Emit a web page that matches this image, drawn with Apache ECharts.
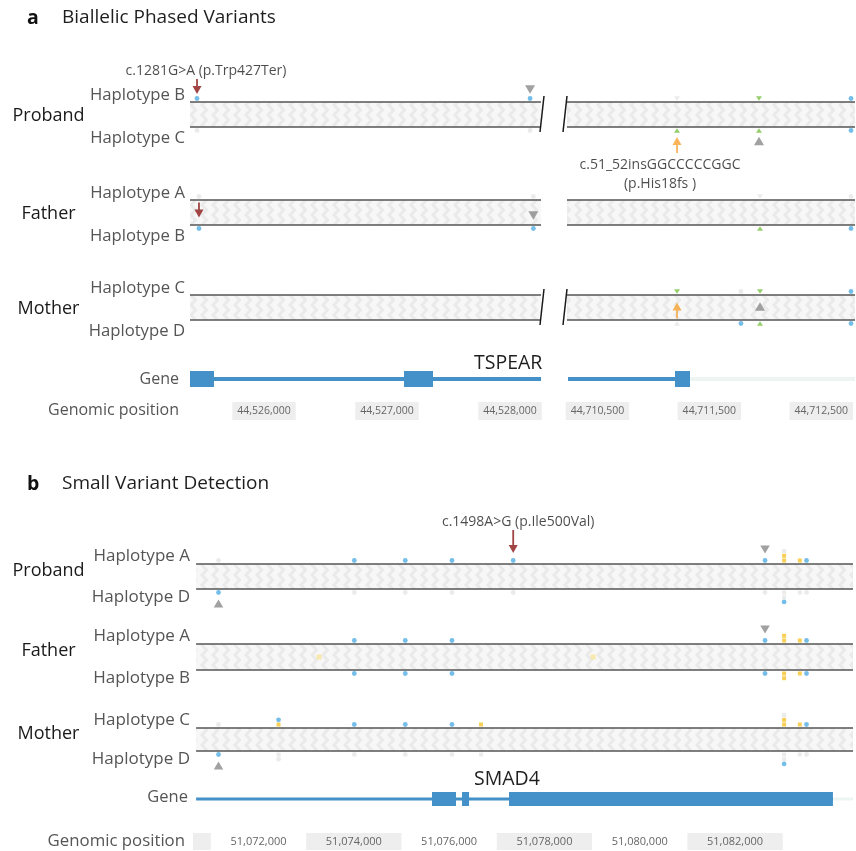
<!DOCTYPE html>
<html>
<head>
<meta charset="utf-8">
<script src="https://cdn.jsdelivr.net/npm/echarts@6/dist/echarts.min.js"></script>
<style>
  html, body { margin: 0; padding: 0; background: #fff; }
  #chart { width: 856px; height: 851px; }
</style>
</head>
<body>
<div id="chart"></div>
<script>
// ---- data ------------------------------------------------------------------
var SAMPLES = ['Proband', 'Father', 'Mother'];
var HAPS_A = { Proband: ['Haplotype B', 'Haplotype C'], Father: ['Haplotype A', 'Haplotype B'], Mother: ['Haplotype C', 'Haplotype D'] };
var HAPS_B = { Proband: ['Haplotype A', 'Haplotype D'], Father: ['Haplotype A', 'Haplotype B'], Mother: ['Haplotype C', 'Haplotype D'] };

// genomic windows (bp)
var REGION_A_LEFT = [44525398, 44528252];
var REGION_A_RIGHT = [44710228, 44712754];
var REGION_B = [51070625, 51084476];
var TRACK_START_B = 51070690;

var TICKS_A_LEFT = [44526000, 44527000, 44528000];
var TICKS_A_RIGHT = [44710500, 44711500, 44712500];
var TICKS_B = [51072000, 51074000, 51076000, 51078000, 51080000, 51082000];
var BANDS_B = [[51069000, 51071000], [51073000, 51075000], [51077000, 51079000], [51081000, 51083000]];

// gene models: [start, end, part]  part: 0 intron line, 1 exon, 2 flank
var GENE_A_LEFT = [[44525398, 44528252, 0], [44525398, 44525593, 1], [44527138, 44527374, 1]];
var GENE_A_RIGHT = [[44710237, 44711175, 0], [44711175, 44711307, 1], [44711307, 44712754, 2]];
var GENE_B = [[51070690, 51084055, 0], [51075641, 51076145, 1], [51076271, 51076418, 1], [51077257, 51084055, 1], [51084055, 51084476, 2]];

// variants: [position, sample, type, phased genotype]
var VARIANTS_A_LEFT = [
  [44525455, 'Proband', 'snv', '1|0'],
  [44528163, 'Proband', 'snv', '1|0'],
  [44525471, 'Father', 'snv', '0|1'],
  [44528190, 'Father', 'snv', '0|1']
];
var VARIANTS_A_RIGHT = [
  [44711193, 'Proband', 'ins', '0|1'],
  [44711912, 'Proband', 'ins', '1|1'],
  [44712719, 'Proband', 'snv', '1|1'],
  [44711921, 'Father', 'ins', '0|1'],
  [44712719, 'Father', 'snv', '0|1'],
  [44711193, 'Mother', 'ins', '1|0'],
  [44711754, 'Mother', 'snv', '0|1'],
  [44711921, 'Mother', 'ins', '1|1'],
  [44712719, 'Mother', 'snv', '1|1']
];
var VARIANTS_B = [
  [51071160, 'Proband', 'snv', '0|1'],
  [51074010, 'Proband', 'snv', '1|0'],
  [51075080, 'Proband', 'snv', '1|0'],
  [51076060, 'Proband', 'snv', '1|0'],
  [51077345, 'Proband', 'snv', '1|0'],
  [51082630, 'Proband', 'snv', '1|0'],
  [51083030, 'Proband', 'del', '1|0'],
  [51083030, 'Proband', 'del', '1|0'],
  [51083030, 'Proband', 'snv', '0|1'],
  [51083360, 'Proband', 'del', '1|0'],
  [51083500, 'Proband', 'snv', '1|0'],
  [51073270, 'Father', 'del', 'un'],
  [51074010, 'Father', 'snv', '1|1'],
  [51075080, 'Father', 'snv', '1|1'],
  [51076060, 'Father', 'snv', '1|1'],
  [51079024, 'Father', 'del', 'un'],
  [51082630, 'Father', 'snv', '1|1'],
  [51083030, 'Father', 'del', '1|1'],
  [51083030, 'Father', 'del', '1|1'],
  [51083360, 'Father', 'del', '1|1'],
  [51083500, 'Father', 'snv', '1|1'],
  [51071160, 'Mother', 'snv', '0|1'],
  [51072420, 'Mother', 'del', '1|0'],
  [51072420, 'Mother', 'snv', '1|0'],
  [51074010, 'Mother', 'snv', '1|0'],
  [51075080, 'Mother', 'snv', '1|0'],
  [51076060, 'Mother', 'snv', '1|0'],
  [51076670, 'Mother', 'del', '1|0'],
  [51083030, 'Mother', 'del', '1|0'],
  [51083030, 'Mother', 'del', '1|0'],
  [51083030, 'Mother', 'snv', '0|1'],
  [51083360, 'Mother', 'del', '1|0'],
  [51083500, 'Mother', 'snv', '1|0']
];

// grey flags: [position, sample, haplotype, placement]
var FLAGS_A_LEFT = [[44528163, 'Proband', 0, 'out'], [44528190, 'Father', 1, 'in']];
var FLAGS_A_RIGHT = [[44711912, 'Proband', 1, 'out'], [44711921, 'Mother', 0, 'in']];
var FLAGS_B = [[51071160, 'Proband', 1, 'out'], [51082630, 'Proband', 0, 'out'], [51082630, 'Father', 0, 'out'], [51071160, 'Mother', 1, 'out']];

// callout arrows: [position, sample, haplotype, placement, parent of origin, text]
var ARROWS_A_LEFT = [
  [44525455, 'Proband', 0, 'out', 'paternal', 'c.1281G>A (p.Trp427Ter)'],
  [44525471, 'Father', 1, 'in', 'paternal', '']
];
var ARROWS_A_RIGHT = [
  [44711193, 'Proband', 1, 'out', 'maternal', 'c.51_52insGGCCCCCGGC\n(p.His18fs )'],
  [44711193, 'Mother', 0, 'in', 'maternal', '']
];
var ARROWS_B = [[51077345, 'Proband', 0, 'out', 'paternal', 'c.1498A>G (p.Ile500Val)']];

// ---- layout / style --------------------------------------------------------
var FONT = '"Open Sans", "Noto Sans", sans-serif';
var ROWS_A = { Proband: [102, 127], Father: [200, 225], Mother: [295, 320] };
var ROWS_B = { Proband: [564, 589], Father: [644, 670], Mother: [728, 751] };
var BREAK_LEFT = { Proband: 1, Mother: 1 };   // slash at right end of left window
var BREAK_RIGHT = { Proband: 2, Mother: 2 };  // slash at left end of right window
var CALLOUT_DX = { 'c.1281G>A (p.Trp427Ter)': 9, 'c.51_52insGGCCCCCGGC\n(p.His18fs )': -17, 'c.1498A>G (p.Ile500Val)': 5 };

var LINE = '#555555';
var GENE_COLOR = '#4391c8';
var FLANK_COLOR = '#edf5f3';
var REF_COLOR = '#e6e6e6';
var ORIGIN_COLOR = { paternal: '#8a1717', maternal: '#f7a233' };
var KIND = {
  snv: { symbol: 'circle', size: 4.8, color: '#52aee3', pale: '#bfe0f4' },
  del: { symbol: 'rect', size: 4, color: '#f8c42c', pale: '#f9e39b' },
  ins: { symbol: 'triangle', size: [6, 4.5], color: '#7cc247', pale: '#c9e6b2' }
};
var STACK_STEP = 4.7;

// chevron fill for the haplotype band
var pat = document.createElement('canvas');
pat.width = 11; pat.height = 10;
var pg = pat.getContext('2d');
pg.fillStyle = '#f7f7f7'; pg.fillRect(0, 0, 11, 10);
pg.fillStyle = '#eaeaea';
pg.beginPath();
pg.moveTo(6.5, 0); pg.lineTo(2, 5); pg.lineTo(6.5, 10); pg.lineTo(10.5, 10); pg.lineTo(6, 5); pg.lineTo(10.5, 0);
pg.closePath(); pg.fill();
var BAND_FILL = { image: pat, repeat: 'repeat' };

function fmt(v) { return Math.round(v).toLocaleString('en-US'); }

function outY(rows, s, h, d) { return h === 0 ? rows[s][0] - d : rows[s][1] + d; }
function inY(rows, s, h, d) { return h === 0 ? rows[s][0] + d : rows[s][1] - d; }

function trackSeries(gi, rows, x0, x1, breaks) {
  var data = SAMPLES.map(function (s) { return [x0, x1, rows[s][0], rows[s][1], breaks[s] || 0]; });
  return {
    type: 'custom', xAxisIndex: gi, yAxisIndex: gi, silent: true, z: 1, data: data,
    renderItem: function (params, api) {
      var a = api.coord([api.value(0), api.value(2)]);
      var b = api.coord([api.value(1), api.value(3)]);
      var kids = [
        { type: 'rect', shape: { x: a[0], y: a[1], width: b[0] - a[0], height: b[1] - a[1] }, style: { fill: BAND_FILL } },
        { type: 'line', shape: { x1: a[0], y1: a[1], x2: b[0], y2: a[1] }, style: { stroke: LINE, lineWidth: 1.6 } },
        { type: 'line', shape: { x1: a[0], y1: b[1], x2: b[0], y2: b[1] }, style: { stroke: LINE, lineWidth: 1.6 } }
      ];
      var br = api.value(4);
      if (br === 1) kids.push({ type: 'line', shape: { x1: b[0] + 3, y1: a[1] - 6, x2: b[0] - 1, y2: b[1] + 5 }, style: { stroke: '#1a1a1a', lineWidth: 1.5 } });
      if (br === 2) kids.push({ type: 'line', shape: { x1: a[0], y1: a[1] - 6, x2: a[0] - 4, y2: b[1] + 5 }, style: { stroke: '#1a1a1a', lineWidth: 1.5 } });
      return { type: 'group', children: kids };
    }
  };
}

function geneSeries(gi, y, parts, lw, eh) {
  return {
    type: 'custom', xAxisIndex: gi, yAxisIndex: gi, silent: true, z: 1,
    data: parts.map(function (p) { return [p[0], p[1], p[2], y]; }),
    renderItem: function (params, api) {
      var a = api.coord([api.value(0), api.value(3)]);
      var b = api.coord([api.value(1), api.value(3)]);
      var part = api.value(2);
      if (part === 1) {
        return { type: 'rect', z2: 2, shape: { x: a[0], y: a[1] - eh / 2, width: b[0] - a[0], height: eh }, style: { fill: GENE_COLOR } };
      }
      return { type: 'line', shape: { x1: a[0], y1: a[1], x2: b[0], y2: b[1] }, style: { stroke: part === 2 ? FLANK_COLOR : GENE_COLOR, lineWidth: lw } };
    }
  };
}

function bandSeries(gi, bands, min, y0, y1) {
  return {
    type: 'custom', xAxisIndex: gi, yAxisIndex: gi, silent: true, z: 0,
    data: bands.map(function (b) { return [Math.max(b[0], min), b[1]]; }),
    renderItem: function (params, api) {
      var a = api.coord([api.value(0), y0]);
      var b = api.coord([api.value(1), y1]);
      return { type: 'rect', shape: { x: a[0], y: a[1], width: b[0] - a[0], height: b[1] - a[1] }, style: { fill: '#eeeeee' } };
    }
  };
}

function markerSeries(gi, rows, variants) {
  var stacks = {}, items = [];
  variants.forEach(function (v) {
    var pos = v[0], s = v[1], k = KIND[v[2]], gt = v[3];
    if (gt === 'un') {
      items.push({ value: [pos, (rows[s][0] + rows[s][1]) / 2], symbol: k.symbol, symbolSize: k.size + 1, itemStyle: { color: k.pale } });
      return;
    }
    var al = gt.split('|');
    [0, 1].forEach(function (h) {
      var key = s + '|' + h + '|' + pos;
      var n = stacks[key] || 0;
      stacks[key] = n + 1;
      items.push({
        value: [pos, outY(rows, s, h, 3.5 + n * STACK_STEP)],
        symbol: k.symbol, symbolSize: k.size,
        symbolRotate: (v[2] === 'ins' && h === 0) ? 180 : 0,
        itemStyle: { color: al[h] === '1' ? k.color : REF_COLOR }
      });
    });
  });
  return { type: 'scatter', xAxisIndex: gi, yAxisIndex: gi, silent: true, z: 3, animation: false, data: items };
}

function flagSeries(gi, rows, flags, dOut, size) {
  var items = flags.map(function (f) {
    var s = f[1], h = f[2], inside = f[3] === 'in';
    var mid = (rows[s][0] + rows[s][1]) / 2;
    var y = inside ? mid + (h === 0 ? -1 : 3) : outY(rows, s, h, dOut);
    var down = inside ? h === 1 : h === 0;
    return { value: [f[0], y], symbolRotate: down ? 180 : 0 };
  });
  return { type: 'scatter', xAxisIndex: gi, yAxisIndex: gi, silent: true, z: 4, symbol: 'triangle', symbolSize: size, itemStyle: { color: '#8a8a8a' }, data: items };
}

function arrowPath(len, down) {
  var hd = 8;
  if (down) return 'path://M0,' + (len - hd) + 'L3.6,' + (len - hd) + 'L3.6,0L5.4,0L5.4,' + (len - hd) + 'L9,' + (len - hd) + 'L4.5,' + len + 'Z';
  return 'path://M4.5,0L9,' + hd + 'L5.4,' + hd + 'L5.4,' + len + 'L3.6,' + len + 'L3.6,' + hd + 'L0,' + hd + 'Z';
}

function arrowSeries(gi, rows, arrows, len, dOut, fontSize) {
  var items = arrows.map(function (a) {
    var s = a[1], h = a[2], inside = a[3] === 'in';
    var tip = inside ? inY(rows, s, h, 7.5) : outY(rows, s, h, dOut);
    var down = inside ? h === 1 : h === 0;
    var cy = down ? tip - len / 2 : tip + len / 2;
    var item = {
      value: [a[0], cy], symbol: arrowPath(len, down), symbolSize: [9, len],
      itemStyle: { color: ORIGIN_COLOR[a[4]] }
    };
    if (a[5]) {
      item.label = {
        show: true, formatter: a[5], position: down ? 'top' : 'bottom', distance: down ? 0 : 2.5,
        offset: [CALLOUT_DX[a[5]] || 0, 0], color: '#1e1e1e', fontFamily: FONT, fontSize: fontSize,
        lineHeight: down ? 16 : 19, align: 'center'
      };
    }
    return item;
  });
  return { type: 'scatter', xAxisIndex: gi, yAxisIndex: gi, silent: true, z: 5, data: items };
}

// ---- grids & axes ----------------------------------------------------------
var grids = [
  { left: 190, width: 351, top: 0, height: 851 },
  { left: 567, width: 288, top: 0, height: 851 },
  { left: 193, width: 660, top: 0, height: 851 },
  { left: 190, width: 351, top: 0, height: 402 },
  { left: 567, width: 288, top: 0, height: 402 },
  { left: 193, width: 660, top: 0, height: 833 }
];
var regions = [REGION_A_LEFT, REGION_A_RIGHT, REGION_B, REGION_A_LEFT, REGION_A_RIGHT, REGION_B];
var tickSets = [null, null, null, TICKS_A_LEFT, TICKS_A_RIGHT, TICKS_B];

var xAxes = regions.map(function (r, i) {
  var ticks = tickSets[i];
  var ax = {
    gridIndex: i, type: 'value', min: r[0], max: r[1], show: !!ticks,
    axisLine: { show: false }, axisTick: { show: false }, splitLine: { show: false }
  };
  if (ticks) {
    var boxed = i < 5;
    ax.axisLabel = {
      customValues: ticks, formatter: fmt, margin: 0, color: '#666', fontFamily: FONT,
      fontSize: boxed ? 10.5 : 11, lineHeight: boxed ? 12 : 17,
      backgroundColor: boxed ? '#eeeeee' : 'transparent', padding: boxed ? [3, 5] : 0
    };
  }
  return ax;
});
var yAxes = grids.map(function (g, i) {
  return { gridIndex: i, type: 'value', min: 0, max: i < 3 ? 851 : 1, inverse: true, show: false };
});

var series = [
  trackSeries(0, ROWS_A, REGION_A_LEFT[0], REGION_A_LEFT[1], BREAK_LEFT),
  trackSeries(1, ROWS_A, REGION_A_RIGHT[0], REGION_A_RIGHT[1], BREAK_RIGHT),
  trackSeries(2, ROWS_B, TRACK_START_B, REGION_B[1], {}),
  geneSeries(0, 379, GENE_A_LEFT, 4, 16),
  geneSeries(1, 379, GENE_A_RIGHT, 4, 16),
  geneSeries(2, 799, GENE_B, 3, 14),
  bandSeries(2, BANDS_B, REGION_B[0], 833, 850),
  markerSeries(0, ROWS_A, VARIANTS_A_LEFT),
  markerSeries(1, ROWS_A, VARIANTS_A_RIGHT),
  markerSeries(2, ROWS_B, VARIANTS_B),
  flagSeries(0, ROWS_A, FLAGS_A_LEFT, 12.5, [10, 8.5]),
  flagSeries(1, ROWS_A, FLAGS_A_RIGHT, 14, [10, 8.5]),
  flagSeries(2, ROWS_B, FLAGS_B, 14.5, [9.5, 8]),
  arrowSeries(0, ROWS_A, ARROWS_A_LEFT, 15, 8, 14),
  arrowSeries(1, ROWS_A, ARROWS_A_RIGHT, 16, 10, 14),
  arrowSeries(2, ROWS_B, ARROWS_B, 23, 11, 14)
];

// ---- text ------------------------------------------------------------------
function txt(x, y, text, size, color, align, weight) {
  return {
    type: 'text', silent: true, z: 10,
    style: {
      x: x, y: y, text: text, fill: color,
      font: (weight || 'normal') + ' ' + size + 'px ' + FONT,
      textAlign: align || 'left', align: align || 'left',
      textVerticalAlign: 'middle', verticalAlign: 'middle'
    }
  };
}

var graphics = [
  txt(27, 18, 'a', 19.5, '#111', 'left', 'bold'),
  txt(62, 18, 'Biallelic Phased Variants', 19, '#1e1e1e'),
  txt(27, 484, 'b', 19.5, '#111', 'left', 'bold'),
  txt(62, 484, 'Small Variant Detection', 19, '#1e1e1e'),
  txt(474, 363, 'TSPEAR', 19.5, '#1e1e1e'),
  txt(474, 779, 'SMAD4', 19.5, '#1e1e1e'),
  txt(179, 379, 'Gene', 16, '#555', 'right'),
  txt(179, 410, 'Genomic position', 16, '#555', 'right'),
  txt(188, 797, 'Gene', 16.5, '#555', 'right'),
  txt(185, 841, 'Genomic position', 16.8, '#555', 'right')
];
SAMPLES.forEach(function (s) {
  var ra = ROWS_A[s], rb = ROWS_B[s];
  graphics.push(txt(48.5, (ra[0] + ra[1]) / 2 + 1, s, 18, '#1a1a1a', 'center'));
  graphics.push(txt(185, ra[0] - 7, HAPS_A[s][0], 16.7, '#555', 'right'));
  graphics.push(txt(185, ra[1] + 11, HAPS_A[s][1], 16.7, '#555', 'right'));
  graphics.push(txt(48.5, (rb[0] + rb[1]) / 2 - 6, s, 18, '#1a1a1a', 'center'));
  graphics.push(txt(190, rb[0] - 7.5, HAPS_B[s][0], 17, '#555', 'right'));
  graphics.push(txt(190, rb[1] + 8, HAPS_B[s][1], 17, '#555', 'right'));
});

var chart = echarts.init(document.getElementById('chart'), null, { renderer: 'canvas' });
chart.setOption({
  animation: false,
  backgroundColor: '#ffffff',
  grid: grids,
  xAxis: xAxes,
  yAxis: yAxes,
  series: series,
  graphic: graphics
});
</script>
</body>
</html>
